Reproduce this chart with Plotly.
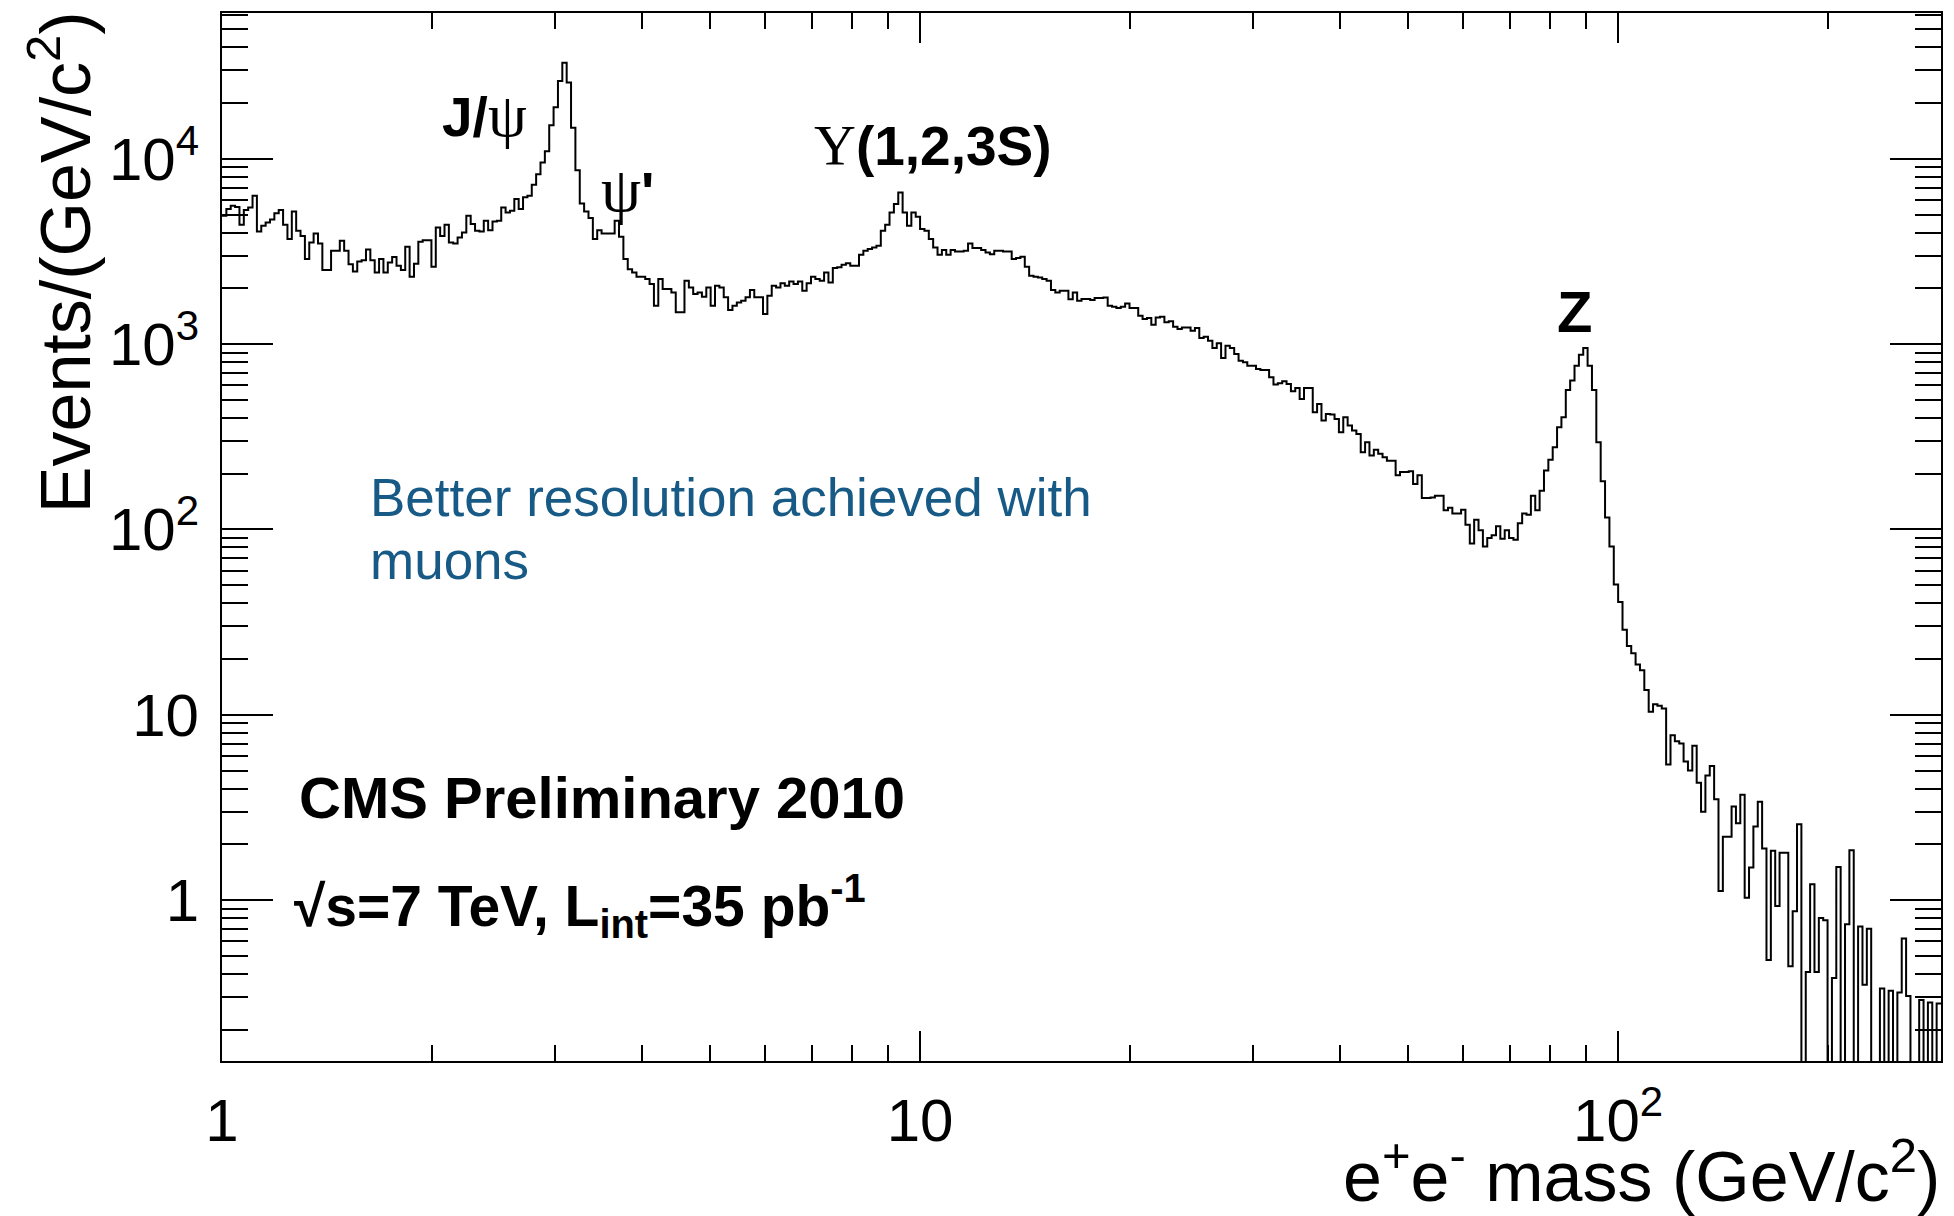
import numpy as np
import plotly.graph_objects as go

# Dielectron invariant-mass spectrum, events per GeV/c^2 in log-spaced bins
# starting at 1 GeV/c^2 (160 bins per decade).
BINS_PER_DECADE = 160

# 1 - 3.6 GeV/c^2: low-mass continuum, J/psi and psi(2S)
counts_low_mass = [
    4930, 5360, 5590, 5500, 4410, 5300, 5470, 6320, 4060, 4350,
    4540, 4700, 5080, 5300, 4410, 3690, 5200, 4090, 3840, 2880,
    3540, 3960, 3490, 2510, 2510, 3190, 3190, 3610, 3190, 2700,
    2470, 2790, 2840, 3240, 2840, 2440, 2880, 2440, 2760, 2950,
    2650, 2510, 3350, 2310, 2720, 3570, 3640, 3640, 2620, 4260,
    3840, 4410, 3540, 3490, 3760, 4010, 4930, 4450, 4090, 4060,
    4630, 4120, 4590, 4630, 5470, 5140, 5250, 6070, 5360, 6200,
    6320, 7250, 8270, 9550, 11000, 15200, 19000, 26300, 33000, 25800,
    14700, 8690, 5750, 5200, 4790, 3690, 4120, 3960, 3960, 3960,
    4630, 3800, 2880, 2540,
]

# 3.9 - 16 GeV/c^2: Upsilon(1S,2S,3S) region
counts_upsilon = [
    2440, 2310, 2310, 2245, 2110, 1610, 2245, 1985, 1985, 1900,
    1485, 1485, 2200, 2025, 1865, 1900, 1800, 2025, 1610, 2065,
    2025, 1790, 1530, 1610, 1680, 1715, 1790, 1960, 1790, 1790,
    1455, 1825, 2065, 2025, 2130, 2065, 2180, 2110, 2180, 1940,
    2130, 2310, 2245, 2200, 2440, 2150, 2580, 2600, 2680, 2730,
    2650, 2650, 3040, 3190, 3260, 3320, 3400, 4090, 4410, 5140,
    5700, 6580, 5140, 4350, 5140, 4870, 4180, 4090, 3690, 3320,
    3040, 3220, 3040, 3220, 3160, 3160, 3190, 3490, 3300, 3300,
    3220, 3120, 3060, 3190, 3190, 3160, 3160, 2880, 2915, 2960,
    2620, 2340, 2310, 2290, 2245, 2200, 1960, 1900, 1940, 1940,
    1750,
]

# 16.5 - 63 GeV/c^2: Drell-Yan continuum
counts_drell_yan = [
    1900, 1715, 1753, 1753, 1730, 1775, 1775, 1787, 1614, 1590,
    1567, 1592, 1660, 1567, 1567, 1424, 1367, 1384, 1274, 1395,
    1406, 1312, 1328, 1243, 1207, 1232, 1232, 1182, 1222, 1080,
    1097, 1045, 953, 1010, 842, 981, 953, 885, 815, 798,
    765, 765, 734, 726, 726, 662, 605, 615, 630, 610,
    557, 581, 506, 581, 581, 429, 475, 387, 420, 417,
    395, 335, 403, 364, 342, 328, 261, 296, 251, 269,
    256, 245, 235, 235, 196, 204, 204, 206, 176, 196,
    148, 148, 149, 152, 152, 127, 131, 122, 122, 128,
    106, 84, 113,
]

# 63 - 105 GeV/c^2: Z resonance
counts_z_peak = [
    99, 81, 90, 93, 104, 89, 99, 90, 88, 108,
    122, 120, 152, 127, 162, 208, 238, 278, 356, 403,
    566, 636, 765, 878, 954, 765, 566, 296, 182, 116,
    81, 50.5, 40.6, 28.8, 23.5, 21.5,
]

# 105 - 290 GeV/c^2: high-mass tail
counts_high_mass = [
    18.7, 17.4, 13.6, 10.4, 11.4, 11.2, 10.8, 5.4, 7.75, 7.2,
    7.0, 5.6, 5.0, 6.8, 4.3, 3.0, 4.7, 5.3, 3.5, 1.12,
    2.2, 2.2, 3.2, 2.6, 3.7, 1.03, 1.5, 2.5, 3.4, 1.9,
    0.475, 1.85, 0.93, 1.8, 1.8, 0.44, 0.87, 2.57, 0, 0.41,
    1.22, 0.41, 0.8, 0.78, 0, 0.38, 1.51, 0, 0.74, 1.86,
    0, 0.72, 0.35, 0.7, 0, 0, 0.334, 0, 0.324, 0,
    0.317, 0.62, 0.304, 0, 0, 0.289, 0, 0.28, 0, 0.277,
]

x_tick_values = [1, 10, 100]
x_tick_text = ["1", "10", "10<sup>2</sup>"]
y_tick_values = [1, 10, 100, 1000, 10000]
y_tick_text = ["1", "10", "10<sup>2</sup>", "10<sup>3</sup>", "10<sup>4</sup>"]

counts = np.array(counts_low_mass + counts_upsilon + counts_drell_yan
                  + counts_z_peak + counts_high_mass, dtype=float)
n_bins = len(counts)
edges = 10.0 ** (np.arange(n_bins + 1) / BINS_PER_DECADE)

# empty bins drop to below the frame, as in a ROOT histogram on a log scale
y_draw = np.where(counts > 0, counts, 1e-3)
y_step = np.append(y_draw, y_draw[-1])

x_minor = [m * 10 ** k for k in range(0, 3) for m in range(2, 10)
           if m * 10 ** k < edges[-1]]
y_minor = [m * 10.0 ** k for k in range(-1, 5) for m in range(2, 10)]

# page geometry
W, H = 1954, 1216
L, R, T, B = 222, 11, 12, 155
PW, PH = W - L - R, H - T - B


def fx(px):
    return (px - L) / PW


def fy(py):
    return (H - B - py) / PH


FONT = "Liberation Sans"
SERIF = "Liberation Serif"


def serif(ch, size=None):
    style = "font-family:" + SERIF + ";font-weight:normal"
    if size:
        style += ";font-size:%dpx" % size
    return "<span style='" + style + "'>" + ch + "</span>"


fig = go.Figure()
fig.add_trace(go.Scatter(
    x=edges, y=y_step, mode="lines",
    line=dict(shape="hv", color="black", width=2),
    hoverinfo="skip", showlegend=False,
))

axis_common = dict(
    type="log", showgrid=False, zeroline=False,
    showline=True, linecolor="black", linewidth=2, mirror="ticks",
    ticks="inside", tickcolor="black", tickwidth=2,
    tickmode="array", tickfont=dict(family=FONT, size=60, color="black"),
)

fig.update_layout(
    width=W, height=H,
    margin=dict(l=L, r=R, t=T, b=B),
    paper_bgcolor="white", plot_bgcolor="white",
    xaxis=dict(
        axis_common, range=[0, n_bins / BINS_PER_DECADE],
        tickvals=x_tick_values, ticktext=x_tick_text, ticklen=30,
        ticklabelstandoff=6,
        minor=dict(tickmode="array", tickvals=x_minor, ticks="inside",
                   ticklen=16, tickwidth=2, tickcolor="black"),
    ),
    yaxis=dict(
        axis_common, range=[-0.868, 4.787],
        tickvals=y_tick_values, ticktext=y_tick_text, ticklen=51,
        ticklabelstandoff=9,
        minor=dict(tickmode="array", tickvals=y_minor, ticks="inside",
                   ticklen=26, tickwidth=2, tickcolor="black"),
    ),
)

annotations = [
    # axis titles
    dict(x=fx(60), y=fy(8), text="Events/(GeV/c<sup>2</sup>)", textangle=-90,
         xanchor="center", yanchor="top", font=dict(family=FONT, size=70)),
    dict(x=fx(1944), y=fy(1172), text="e<sup>+</sup>e<sup>-</sup> mass (GeV/c<sup>2</sup>)",
         xanchor="right", yanchor="middle", font=dict(family=FONT, size=70)),
    # resonance labels
    dict(x=fx(485), y=fy(114), text="<b>J/</b>" + serif("ψ", 62),
         xanchor="center", yanchor="middle", font=dict(family=FONT, size=55)),
    dict(x=fx(628), y=fy(189), text=serif("ψ", 64) + "<b>'</b>",
         xanchor="center", yanchor="middle", font=dict(family=FONT, size=56)),
    dict(x=fx(934), y=fy(145), text=serif("Υ", 58) + "<b>(1,2,3S)</b>",
         xanchor="center", yanchor="middle", font=dict(family=FONT, size=55)),
    dict(x=fx(1576), y=fy(311), text="<b>Z</b>",
         xanchor="center", yanchor="middle", font=dict(family=FONT, size=58)),
    # experiment labels
    dict(x=fx(297), y=fy(797), text="<b>CMS Preliminary 2010</b>",
         xanchor="left", yanchor="middle", font=dict(family=FONT, size=58)),
    dict(x=fx(292), y=fy(906),
         text="<b>√s=7 TeV, L<sub>int</sub>=35 pb<sup>-1</sup></b>",
         xanchor="left", yanchor="middle", font=dict(family=FONT, size=57)),
    # note
    dict(x=fx(368), y=fy(497), text="Better resolution achieved with",
         xanchor="left", yanchor="middle", font=dict(family=FONT, size=53, color="#175a86")),
    dict(x=fx(368), y=fy(560), text="muons",
         xanchor="left", yanchor="middle", font=dict(family=FONT, size=53, color="#175a86")),
]
for a in annotations:
    a.update(xref="paper", yref="paper", showarrow=False)
    a["font"].setdefault("color", "black")
fig.update_layout(annotations=annotations)

fig.write_html("out.html")
